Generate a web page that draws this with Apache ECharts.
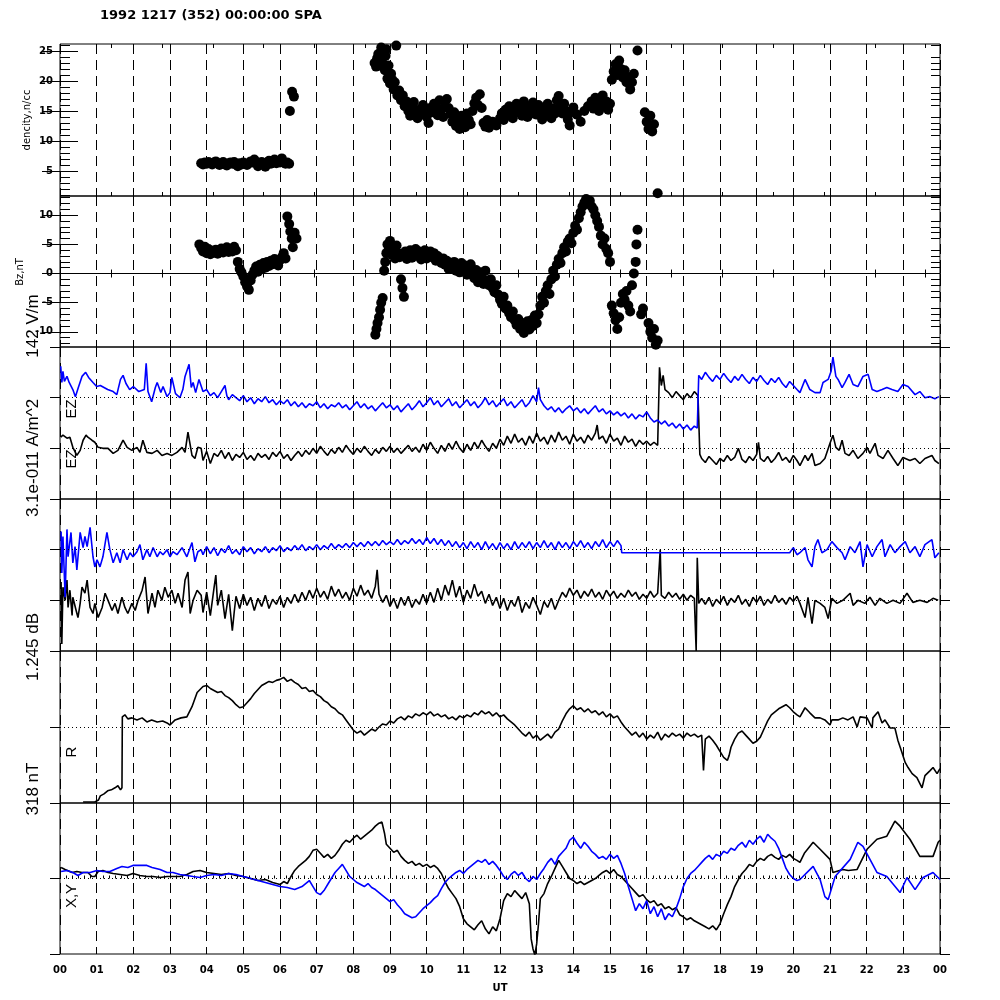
<!DOCTYPE html>
<html><head><meta charset="utf-8">
<script src="https://cdn.jsdelivr.net/npm/echarts@6/dist/echarts.min.js"></script>
<style>html,body{margin:0;padding:0;background:#fff}#c{width:1000px;height:1000px}</style>
</head><body><div id="c"></div>
<script>
const hourLabels = ['00','01','02','03','04','05','06','07','08','09','10','11','12','13','14','15','16','17','18','19','20','21','22','23','00'];
const densityTicks = [5,10,15,20,25];
const densityMinor = [1,2,3,4,6,7,8,9,11,12,13,14,16,17,18,19,21,22,23,24,26];
const bzTicks = [-10,-5,0,5,10];
const bzMinor = [-12,-11,-9,-8,-7,-6,-4,-3,-2,-1,1,2,3,4,6,7,8,9,11,12,13];
const densityRange = [0.83, 26.17];
const bzRange = [-12.6, 13.3];

// density, n/cc  [UT hour, value]
const densityPts = [[3.85,6.3],[3.9,6.1],[3.95,6.4],[4.0,6.2],[4.05,6.5],[4.1,6.3],[4.15,6.1],[4.2,6.4],[4.25,6.6],[4.3,6.3],[4.35,6.0],[4.4,6.2],[4.45,6.5],[4.5,6.1],[4.55,5.9],[4.6,6.3],[4.65,6.4],[4.7,6.2],[4.75,6.5],[4.8,6.1],[4.85,5.8],[4.9,6.3],[4.95,6.1],[5.0,6.4],[5.05,6.2],[5.1,6.0],[5.15,6.3],[5.2,6.6],[5.25,6.4],[5.3,6.9],[5.35,6.3],[5.4,5.8],[5.45,6.2],[5.5,6.5],[5.55,6.3],[5.6,5.7],[5.65,6.4],[5.7,6.7],[5.75,6.2],[5.8,6.5],[5.85,6.9],[5.9,6.3],[5.95,6.6],[6.0,6.4],[6.05,7.1],[6.1,6.5],[6.15,6.2],[6.2,6.4],[6.25,6.2],[6.27,15.0],[6.33,18.2],[6.38,17.4],
[8.58,23.0],[8.62,22.4],[8.65,23.8],[8.68,24.5],[8.7,22.6],[8.73,23.4],[8.76,25.6],[8.8,24.6],[8.83,22.8],[8.86,21.8],[8.88,24.2],[8.9,25.3],[8.93,20.4],[8.96,22.6],[9.0,19.6],[9.03,21.2],[9.06,20.2],[9.1,18.6],[9.13,19.8],[9.17,25.9],[9.2,17.6],[9.25,18.4],[9.3,16.8],[9.35,17.6],[9.4,15.8],[9.45,16.6],[9.5,15.0],[9.55,14.2],[9.6,15.8],[9.65,16.5],[9.7,14.8],[9.75,13.8],[9.8,15.2],[9.85,14.6],[9.9,16.0],[9.95,15.3],[10.0,14.0],[10.05,13.0],[10.1,15.5],[10.15,14.8],[10.2,16.2],[10.25,15.6],[10.3,14.3],[10.35,16.8],[10.4,15.2],[10.45,14.0],[10.5,15.8],[10.55,17.0],[10.6,15.5],[10.65,14.5],[10.7,13.2],[10.75,14.8],[10.8,12.5],[10.85,13.8],[10.9,12.0],[10.95,14.2],[11.0,13.0],[11.05,12.3],[11.1,14.6],[11.15,13.5],[11.2,12.8],[11.25,15.0],[11.3,16.3],[11.35,17.2],[11.4,16.0],[11.45,17.8],[11.5,15.5],[11.55,13.0],[11.6,12.4],[11.65,13.5],[11.7,12.2],[11.8,13.2],[11.9,12.6],[12.0,13.8],[12.05,14.6],[12.1,13.5],[12.15,15.2],[12.2,14.2],[12.25,15.8],[12.3,14.6],[12.35,13.8],[12.4,15.4],[12.45,16.2],[12.5,14.8],[12.55,15.6],[12.6,14.2],[12.65,16.6],[12.7,15.0],[12.75,14.0],[12.8,15.8],[12.85,14.6],[12.9,16.4],[12.95,15.2],[13.0,14.4],[13.05,16.0],[13.1,15.0],[13.15,13.6],[13.2,15.6],[13.25,14.4],[13.3,16.2],[13.35,15.0],[13.4,13.8],[13.45,15.4],[13.5,14.6],[13.55,16.8],[13.6,17.5],[13.65,15.8],[13.7,14.6],[13.75,16.2],[13.8,15.0],[13.85,13.6],[13.9,12.6],[13.95,14.8],[14.0,15.6],[14.1,14.4],[14.2,13.2],[14.3,15.0],[14.4,15.8],[14.5,16.6],[14.55,15.4],[14.6,17.2],[14.65,16.0],[14.7,15.0],[14.75,16.4],[14.8,17.6],[14.85,15.8],[14.9,16.6],[14.95,15.2],[15.0,16.2],[15.05,20.2],[15.1,21.6],[15.15,22.8],[15.2,21.0],[15.25,23.4],[15.3,22.0],[15.35,20.6],[15.4,21.8],[15.45,19.8],[15.5,20.6],[15.55,18.6],[15.6,19.8],[15.65,21.2],[15.75,25.1],[15.95,14.8],[16.0,13.2],[16.05,12.0],[16.1,14.2],[16.15,11.6],[16.2,12.8],[16.3,1.3]];

// Bz, nT  [UT hour, value]
const bzPts = [[3.8,5.0],[3.85,4.4],[3.9,3.8],[3.95,4.6],[4.0,3.5],[4.05,4.2],[4.1,3.3],[4.15,3.9],[4.2,3.6],[4.25,4.1],[4.3,3.4],[4.35,3.8],[4.4,4.3],[4.45,3.6],[4.5,3.9],[4.55,4.5],[4.6,3.7],[4.65,4.2],[4.7,3.8],[4.75,4.6],[4.8,4.0],[4.85,2.0],[4.9,0.8],[4.95,0.2],[5.0,-0.5],[5.05,-1.5],[5.1,-2.2],[5.15,-2.8],[5.2,-1.2],[5.25,-0.2],[5.3,0.5],[5.35,1.2],[5.4,0.3],[5.45,1.5],[5.5,0.8],[5.55,1.8],[5.6,1.0],[5.65,2.0],[5.7,1.3],[5.75,2.2],[5.8,1.6],[5.85,2.5],[5.9,2.0],[5.95,1.4],[6.0,2.3],[6.05,2.8],[6.1,3.5],[6.15,2.6],[6.2,9.8],[6.25,8.5],[6.28,7.2],[6.32,6.0],[6.35,4.5],[6.4,7.0],[6.45,6.0],
[8.6,-10.5],[8.63,-9.5],[8.66,-8.5],[8.7,-7.5],[8.73,-6.2],[8.76,-5.0],[8.8,-4.2],[8.84,0.5],[8.87,2.0],[8.9,3.5],[8.93,5.0],[8.96,4.0],[9.0,5.6],[9.03,4.5],[9.06,3.2],[9.1,4.0],[9.14,2.6],[9.18,4.8],[9.22,3.5],[9.26,2.8],[9.3,-1.0],[9.34,-2.5],[9.38,-4.0],[9.42,3.8],[9.46,2.5],[9.5,3.2],[9.55,4.0],[9.6,2.7],[9.65,3.5],[9.7,4.2],[9.75,3.0],[9.8,3.8],[9.85,2.4],[9.9,3.4],[9.95,4.0],[10.0,2.6],[10.05,3.2],[10.1,3.8],[10.15,2.8],[10.2,3.5],[10.25,2.2],[10.3,3.0],[10.35,2.5],[10.4,1.8],[10.45,2.6],[10.5,1.5],[10.55,2.2],[10.6,0.8],[10.65,1.6],[10.7,1.0],[10.75,2.0],[10.8,0.5],[10.85,1.3],[10.9,0.2],[10.95,1.8],[11.0,0.6],[11.05,1.4],[11.1,-0.2],[11.15,0.9],[11.2,1.6],[11.25,0.3],[11.3,-0.8],[11.35,0.6],[11.4,-1.5],[11.45,0.2],[11.5,-0.6],[11.55,-1.8],[11.6,0.5],[11.65,-1.2],[11.7,-2.0],[11.75,-1.0],[11.8,-2.5],[11.85,-3.2],[11.9,-2.0],[11.95,-3.6],[12.0,-4.5],[12.05,-5.2],[12.1,-4.0],[12.15,-6.0],[12.2,-5.5],[12.25,-6.8],[12.3,-7.5],[12.35,-6.5],[12.4,-8.0],[12.45,-8.8],[12.5,-7.8],[12.55,-9.5],[12.6,-8.5],[12.65,-10.2],[12.7,-9.0],[12.75,-8.2],[12.8,-9.6],[12.85,-8.0],[12.9,-9.0],[12.95,-7.2],[13.0,-8.5],[13.05,-7.0],[13.1,-5.5],[13.15,-4.0],[13.2,-5.0],[13.25,-3.0],[13.3,-2.0],[13.35,-3.5],[13.4,-1.0],[13.45,0.5],[13.5,-0.5],[13.55,1.5],[13.6,2.5],[13.65,1.8],[13.7,3.5],[13.75,4.5],[13.8,3.8],[13.85,5.5],[13.9,6.0],[13.95,5.2],[14.0,7.0],[14.05,8.2],[14.1,7.5],[14.15,9.5],[14.2,10.5],[14.25,11.5],[14.3,12.2],[14.35,12.8],[14.4,12.0],[14.45,12.5],[14.5,11.5],[14.55,11.0],[14.6,10.0],[14.65,9.0],[14.7,8.0],[14.75,6.5],[14.8,5.0],[14.85,6.0],[14.9,4.2],[14.95,3.5],[15.0,2.0],[15.05,-5.5],[15.1,-6.8],[15.15,-8.0],[15.2,-9.5],[15.25,-7.5],[15.3,-5.0],[15.35,-3.5],[15.4,-4.5],[15.45,-3.0],[15.5,-5.5],[15.55,-6.5],[15.6,-2.0],[15.65,0.0],[15.7,2.0],[15.72,5.0],[15.75,7.5],[15.85,-7.0],[15.9,-6.0],[16.05,-8.5],[16.1,-10.0],[16.15,-11.0],[16.2,-9.5],[16.25,-12.2],[16.3,-11.5]];

// panel 3: EZ traces (relative units, black baseline 0, blue baseline 50)
const ezBlue = [[0.02,81],[0.05,65],[0.08,76],[0.12,66],[0.19,71],[0.25,65],[0.35,58],[0.42,51],[0.5,60],[0.6,71],[0.7,75],[0.78,70],[0.9,65],[1.0,61],[1.1,62],[1.2,60],[1.3,58],[1.45,56],[1.55,53],[1.65,68],[1.72,72],[1.8,64],[1.9,58],[2.0,61],[2.15,56],[2.3,58],[2.35,84],[2.4,56],[2.5,46],[2.6,60],[2.65,65],[2.75,55],[2.81,61],[2.92,51],[3.0,55],[3.05,70],[3.15,54],[3.27,50],[3.35,58],[3.41,71],[3.52,83],[3.58,60],[3.63,65],[3.7,55],[3.79,68],
[3.9,56],[4.0,58],[4.1,52],[4.2,55],[4.3,50],[4.4,56],[4.5,62],[4.55,52],[4.6,48],[4.7,53],[4.8,50],[4.9,47],[5.0,52],[5.1,46],[5.2,50],[5.3,44],[5.4,49],[5.5,46],[5.6,51],[5.7,45],[5.8,48],[5.9,43],[6.0,47],[6.1,44],[6.2,48],[6.3,42],[6.4,46],[6.5,41],[6.6,45],[6.7,40],[6.8,44],[6.9,42],[7.0,46],[7.1,40],[7.2,44],[7.3,39],[7.4,43],[7.5,41],[7.6,45],[7.7,40],[7.8,43],[7.9,38],[8.0,42],[8.1,46],[8.2,40],[8.3,44],[8.4,39],[8.5,42],[8.6,37],[8.7,41],[8.8,45],[8.9,40],[9.0,43],[9.1,38],[9.2,42],[9.3,36],[9.4,40],[9.5,44],[9.6,38],[9.7,42],[9.8,47],[9.9,41],[10.0,45],[10.1,50],[10.2,43],[10.3,47],[10.4,41],[10.5,45],[10.6,49],[10.7,42],[10.8,46],[10.9,40],[11.0,44],[11.1,48],[11.2,42],[11.3,46],[11.4,40],[11.5,44],[11.6,50],[11.7,43],[11.8,47],[11.9,41],[12.0,45],[12.1,49],[12.2,42],[12.3,46],[12.4,40],[12.5,44],[12.6,48],[12.7,41],[12.8,45],[12.9,52],[13.0,46],[13.05,60],[13.1,48],[13.2,42],[13.3,38],[13.4,41],[13.5,36],[13.6,40],[13.7,35],[13.8,39],[13.9,42],[14.0,37],[14.1,40],[14.2,35],[14.3,39],[14.4,34],[14.5,38],[14.6,42],[14.7,36],[14.8,39],[14.9,34],[15.0,37],[15.1,33],[15.2,36],[15.3,32],[15.4,35],[15.5,30],[15.6,34],[15.7,29],[15.8,33],[15.9,31],[16.0,36],[16.1,30],[16.2,26],[16.3,28],[16.4,24],[16.5,27],[16.6,22],[16.7,25],[16.8,20],[16.9,24],[17.0,19],[17.1,23],[17.2,18],[17.3,22],[17.38,20],[17.42,72],[17.5,68],[17.6,75],[17.7,70],[17.8,66],[17.9,72],[18.0,68],[18.1,74],[18.2,69],[18.3,65],[18.4,71],[18.5,67],[18.6,73],[18.7,68],[18.8,64],[18.9,70],[19.0,66],[19.1,72],[19.2,67],[19.3,63],[19.4,69],[19.5,65],[19.6,70],[19.7,64],[19.8,60],[19.9,66],[20.0,62],[20.1,58],
[20.18,55],[20.32,68],[20.45,58],[20.59,55],[20.73,55],[20.81,65],[20.95,68],[21.03,76],[21.08,90],[21.16,71],[21.22,68],[21.33,60],[21.41,65],[21.52,73],[21.63,63],[21.76,61],[21.9,71],[22.04,73],[22.15,58],[22.28,56],[22.42,58],[22.55,60],[22.69,58],[22.85,56],[22.99,63],[23.13,61],[23.32,53],[23.45,56],[23.59,50],[23.73,51],[23.86,49],[23.97,51]];
const ezBlack = [[0.02,11],[0.08,13],[0.19,10],[0.27,11],[0.35,1],[0.46,-7],[0.55,-2],[0.63,8],[0.71,13],[0.76,11],[0.87,8],[0.95,6],[1.04,1],[1.17,0],[1.31,0],[1.45,-5],[1.58,-2],[1.72,8],[1.83,1],[1.96,-2],[2.1,1],[2.18,-4],[2.26,8],[2.37,-4],[2.51,-5],[2.65,-2],[2.78,-7],[2.92,-5],[3.05,-7],[3.19,-4],[3.33,1],[3.41,-4],[3.49,16],[3.6,-7],[3.68,-10],[3.76,1],
[3.85,0],[3.9,-12],[4.0,-3],[4.1,-15],[4.2,-5],[4.3,-8],[4.4,-2],[4.5,-10],[4.6,-4],[4.7,-12],[4.8,-6],[4.9,-9],[5.0,-4],[5.1,-11],[5.2,-7],[5.3,-12],[5.4,-5],[5.5,-9],[5.6,-6],[5.7,-11],[5.8,-4],[5.9,-8],[6.0,-3],[6.1,-10],[6.2,-6],[6.3,-12],[6.4,-7],[6.5,-3],[6.6,-8],[6.7,-2],[6.8,-6],[6.9,0],[7.0,-5],[7.1,2],[7.2,-3],[7.3,-7],[7.4,-1],[7.5,-5],[7.6,1],[7.7,-4],[7.8,3],[7.9,-2],[8.0,-6],[8.1,0],[8.2,-4],[8.3,2],[8.4,-3],[8.5,-7],[8.6,-1],[8.7,-5],[8.8,1],[8.9,-3],[9.0,2],[9.1,-4],[9.2,0],[9.3,-5],[9.4,-1],[9.5,3],[9.6,-3],[9.7,1],[9.8,-4],[9.9,4],[10.0,-2],[10.1,6],[10.2,0],[10.3,-5],[10.4,3],[10.5,-3],[10.6,5],[10.7,-1],[10.8,7],[10.9,0],[11.0,-4],[11.1,4],[11.2,-2],[11.3,6],[11.4,0],[11.5,8],[11.6,2],[11.7,-3],[11.8,5],[11.9,0],[12.0,9],[12.1,3],[12.2,12],[12.3,5],[12.4,14],[12.5,6],[12.6,10],[12.7,3],[12.8,12],[12.9,5],[13.0,15],[13.1,7],[13.2,11],[13.3,4],[13.4,13],[13.5,6],[13.6,16],[13.7,8],[13.8,12],[13.9,4],[14.0,14],[14.1,7],[14.2,11],[14.3,5],[14.4,13],[14.5,8],[14.6,15],[14.65,23],[14.7,9],[14.8,12],[14.9,5],[15.0,14],[15.1,7],[15.2,10],[15.3,3],[15.4,12],[15.5,6],[15.6,9],[15.7,2],[15.8,8],[15.9,4],[16.0,7],[16.1,3],[16.2,6],[16.3,3],[16.35,80],[16.4,62],[16.45,72],[16.5,58],[16.6,55],[16.7,50],[16.8,56],[16.9,52],[17.0,48],[17.1,54],[17.2,50],[17.3,56],[17.4,52],[17.45,-6],[17.5,-10],[17.6,-14],[17.7,-8],[17.8,-12],[17.9,-16],[18.0,-10],[18.1,-13],[18.2,-7],[18.3,-12],[18.4,-9],[18.5,0],[18.6,-11],[18.7,-14],[18.8,-8],[18.9,-12],[19.0,-6],[19.05,6],[19.1,-10],[19.2,-13],[19.3,-8],[19.4,-14],[19.5,-10],[19.6,-4],[19.7,-12],[19.8,-9],[19.9,-14],[20.0,-7],[20.1,-12],
[20.18,-17],[20.32,-7],[20.4,-12],[20.51,-5],[20.59,-17],[20.73,-15],[20.86,-10],[21.0,5],[21.08,13],[21.16,1],[21.25,-2],[21.33,8],[21.41,-5],[21.52,-7],[21.63,-2],[21.76,-10],[21.9,-5],[22.01,1],[22.09,-5],[22.23,5],[22.31,-7],[22.45,-10],[22.58,-2],[22.72,-10],[22.85,-17],[22.99,-9],[23.18,-12],[23.32,-10],[23.45,-15],[23.59,-10],[23.78,-7],[23.86,-12],[23.97,-15]];

// panel 4 traces (relative units, black baseline 0, blue baseline 50)
const p4Blue = [[0.03,68],[0.05,27],[0.08,63],[0.14,3],[0.19,70],[0.22,43],[0.3,67],[0.35,37],[0.41,53],[0.46,30],[0.55,67],[0.63,52],[0.68,63],[0.74,53],[0.82,72],[0.9,43],[0.95,33],[1.01,40],[1.09,33],[1.17,43],[1.28,67],[1.36,50],[1.45,37],[1.55,47],[1.64,37],[1.72,50],[1.83,40],[1.91,47],[1.99,43],[2.1,48],[2.18,55],[2.26,40],[2.37,50],[2.45,43],[2.54,52],[2.65,43],[2.73,48],[2.81,45],[2.92,50],[3.0,43],[3.08,48],[3.19,45],[3.33,52],[3.46,43],[3.6,57],[3.68,38],[3.76,48],
[3.85,50],[3.9,45],[4.0,53],[4.1,46],[4.2,52],[4.3,44],[4.4,51],[4.5,47],[4.6,54],[4.7,46],[4.8,50],[4.9,45],[5.0,53],[5.1,48],[5.2,52],[5.3,46],[5.4,51],[5.5,48],[5.6,53],[5.7,47],[5.8,52],[5.9,49],[6.0,54],[6.1,48],[6.2,52],[6.3,49],[6.4,54],[6.5,50],[6.6,55],[6.7,49],[6.8,53],[6.9,50],[7.0,55],[7.1,50],[7.2,54],[7.3,51],[7.4,56],[7.5,51],[7.6,55],[7.7,52],[7.8,56],[7.9,52],[8.0,57],[8.1,53],[8.2,57],[8.3,53],[8.4,58],[8.5,54],[8.6,58],[8.7,54],[8.8,59],[8.9,55],[9.0,58],[9.1,55],[9.2,60],[9.3,55],[9.4,59],[9.5,56],[9.6,61],[9.7,56],[9.8,60],[9.9,55],[10.0,62],[10.1,56],[10.2,61],[10.3,55],[10.4,60],[10.5,54],[10.6,59],[10.7,53],[10.8,58],[10.9,52],[11.0,57],[11.1,51],[11.2,58],[11.3,52],[11.4,57],[11.5,50],[11.6,58],[11.7,51],[11.8,56],[11.9,50],[12.0,57],[12.1,51],[12.2,56],[12.3,50],[12.4,58],[12.5,51],[12.6,57],[12.7,52],[12.8,58],[12.9,51],[13.0,57],[13.1,52],[13.2,59],[13.3,52],[13.4,57],[13.5,50],[13.6,58],[13.7,52],[13.8,57],[13.9,51],[14.0,58],[14.1,53],[14.2,59],[14.3,52],[14.4,57],[14.5,51],[14.6,58],[14.7,53],[14.8,60],[14.9,52],[15.0,58],[15.1,53],[15.2,59],[15.3,54],[15.32,47],[19.9,47],[20.0,52],[20.1,45],
[20.18,47],[20.32,52],[20.4,40],[20.51,33],[20.59,53],[20.67,60],[20.78,47],[20.92,50],[21.05,58],[21.19,52],[21.33,47],[21.41,40],[21.55,53],[21.68,47],[21.82,58],[21.9,33],[22.01,55],[22.15,43],[22.28,53],[22.42,60],[22.5,43],[22.64,55],[22.77,47],[22.91,53],[23.05,58],[23.18,47],[23.32,53],[23.45,43],[23.59,55],[23.78,60],[23.86,42],[23.97,47]];
const p4Black = [[0.03,18],[0.05,-43],[0.08,13],[0.14,0],[0.19,20],[0.22,-7],[0.27,10],[0.33,-15],[0.35,3],[0.44,-10],[0.49,-17],[0.55,-3],[0.6,13],[0.68,7],[0.74,20],[0.82,-7],[0.9,-13],[0.95,-3],[1.04,-17],[1.15,-7],[1.23,7],[1.31,0],[1.42,-10],[1.5,-3],[1.58,-13],[1.69,3],[1.77,-7],[1.85,-13],[1.96,-3],[2.05,-10],[2.13,0],[2.24,10],[2.32,23],[2.4,-13],[2.51,7],[2.59,-7],[2.67,10],[2.78,0],[2.86,13],[2.95,3],[3.05,10],[3.14,-3],[3.22,7],[3.33,-7],[3.41,20],[3.49,28],[3.55,-13],[3.63,0],[3.74,10],
[3.85,5],[3.9,-12],[4.0,8],[4.1,-15],[4.2,12],[4.25,25],[4.3,-5],[4.4,10],[4.5,-18],[4.6,6],[4.7,-30],[4.75,-12],[4.8,4],[4.9,-8],[5.0,6],[5.1,-5],[5.2,3],[5.3,-10],[5.4,2],[5.5,-6],[5.6,5],[5.7,-8],[5.8,1],[5.9,-4],[6.0,4],[6.1,-7],[6.2,3],[6.3,-3],[6.4,6],[6.5,-2],[6.6,8],[6.7,0],[6.8,10],[6.9,2],[7.0,12],[7.1,3],[7.2,9],[7.3,1],[7.4,14],[7.5,4],[7.6,11],[7.7,2],[7.8,8],[7.9,0],[8.0,12],[8.1,4],[8.2,15],[8.3,5],[8.4,10],[8.5,2],[8.6,14],[8.65,30],[8.7,6],[8.8,-2],[8.9,5],[9.0,-6],[9.1,2],[9.2,-8],[9.3,3],[9.4,-5],[9.5,4],[9.6,-7],[9.7,1],[9.8,-4],[9.9,6],[10.0,-3],[10.1,8],[10.2,-2],[10.3,12],[10.4,0],[10.5,15],[10.6,5],[10.7,20],[10.8,3],[10.9,14],[11.0,-2],[11.1,10],[11.2,2],[11.3,16],[11.4,4],[11.5,9],[11.6,-3],[11.7,6],[11.8,-5],[11.9,3],[12.0,-8],[12.1,2],[12.2,-10],[12.3,0],[12.4,-6],[12.5,4],[12.6,-12],[12.7,-2],[12.8,-8],[12.9,3],[13.0,-5],[13.1,-14],[13.2,-1],[13.3,-7],[13.4,2],[13.5,-9],[13.6,0],[13.7,8],[13.8,3],[13.9,12],[14.0,5],[14.1,10],[14.2,2],[14.3,9],[14.4,4],[14.5,11],[14.6,3],[14.7,8],[14.8,1],[14.9,10],[15.0,4],[15.1,9],[15.2,2],[15.3,7],[15.4,3],[15.5,10],[15.6,4],[15.7,8],[15.8,1],[15.9,6],[16.0,2],[16.1,9],[16.2,3],[16.3,7],[16.37,50],[16.4,5],[16.5,2],[16.6,8],[16.7,3],[16.8,7],[16.9,1],[17.0,6],[17.1,0],[17.2,5],[17.3,2],[17.35,-50],[17.38,42],[17.42,-3],[17.5,2],[17.6,-4],[17.7,3],[17.8,-6],[17.9,1],[18.0,-3],[18.1,4],[18.2,-5],[18.3,2],[18.4,-2],[18.5,5],[18.6,-4],[18.7,1],[18.8,-6],[18.9,3],[19.0,-2],[19.1,4],[19.2,-5],[19.3,1],[19.4,-3],[19.5,5],[19.6,-2],[19.7,2],[19.8,-4],[19.9,3],[20.0,-1],[20.1,4],
[20.18,-3],[20.32,-17],[20.4,3],[20.51,-23],[20.59,0],[20.73,-3],[20.86,-7],[20.95,-18],[21.05,2],[21.19,-3],[21.35,0],[21.55,7],[21.63,-5],[21.76,0],[21.95,-3],[22.09,3],[22.23,-5],[22.36,2],[22.55,-3],[22.72,0],[22.91,-3],[23.1,7],[23.26,-2],[23.45,0],[23.65,-2],[23.81,2],[23.95,0]];

// panel 5: R (relative units, baseline 0)
const rTrace = [[0.63,-74],[0.95,-74],[1.05,-72],[1.1,-68],[1.2,-66],[1.3,-63],[1.4,-62],[1.5,-60],[1.58,-58],[1.65,-62],[1.69,-60],[1.7,10],[1.77,12],[1.85,8],[1.96,9],[2.1,7],[2.24,9],[2.37,5],[2.5,7],[2.65,5],[2.8,6],[2.92,4],[3.0,2],[3.14,7],[3.3,9],[3.46,10],[3.6,20],[3.74,34],[3.82,37],[3.9,40],[4.0,41],[4.1,38],[4.2,36],[4.3,34],[4.4,35],[4.5,31],[4.6,29],[4.7,26],[4.8,22],[4.9,19],[5.0,20],[5.1,24],[5.2,28],[5.3,33],[5.4,37],[5.5,41],[5.6,43],[5.7,45],[5.8,44],[5.9,46],[6.0,47],[6.1,49],[6.2,45],[6.3,47],[6.4,44],[6.5,42],[6.6,38],[6.7,39],[6.8,35],[6.9,36],[7.0,32],[7.1,30],[7.2,26],[7.3,24],[7.4,20],[7.5,18],[7.6,14],[7.7,12],[7.8,7],[7.9,2],[8.0,-3],[8.1,-6],[8.2,-4],[8.3,-8],[8.4,-5],[8.5,-2],[8.6,-4],[8.7,0],[8.8,3],[8.9,2],[9.0,6],[9.1,4],[9.2,8],[9.3,10],[9.4,7],[9.5,11],[9.6,9],[9.7,13],[9.8,11],[9.9,14],[10.0,12],[10.1,15],[10.2,11],[10.3,13],[10.4,10],[10.5,12],[10.6,8],[10.7,10],[10.8,7],[10.9,11],[11.0,9],[11.1,12],[11.2,10],[11.3,14],[11.4,12],[11.5,16],[11.6,13],[11.7,15],[11.8,11],[11.9,14],[12.0,10],[12.1,12],[12.2,8],[12.3,5],[12.4,2],[12.5,-2],[12.6,-6],[12.7,-9],[12.8,-5],[12.9,-11],[13.0,-8],[13.1,-13],[13.2,-10],[13.3,-7],[13.4,-11],[13.5,-5],[13.6,-2],[13.7,6],[13.8,13],[13.9,18],[14.0,21],[14.1,17],[14.2,19],[14.3,15],[14.4,18],[14.5,14],[14.6,16],[14.7,12],[14.8,15],[14.9,10],[15.0,13],[15.1,9],[15.2,11],[15.3,5],[15.4,0],[15.5,-4],[15.6,-8],[15.7,-5],[15.8,-10],[15.9,-6],[16.0,-12],[16.1,-8],[16.2,-11],[16.3,-5],[16.4,-13],[16.5,-7],[16.6,-10],[16.7,-6],[16.8,-9],[16.9,-7],[17.0,-11],[17.1,-6],[17.2,-9],[17.3,-7],[17.4,-10],[17.5,-8],[17.55,-43],[17.6,-12],[17.7,-9],[17.8,-13],[17.9,-18],[18.0,-24],[18.1,-30],[18.2,-33],[18.25,-28],[18.3,-20],[18.4,-12],[18.5,-6],[18.6,-4],[18.7,-8],[18.8,-12],[18.9,-16],[19.0,-14],[19.1,-10],[19.2,-2],[19.3,6],[19.4,12],[19.5,15],[19.6,18],[19.7,20],[19.8,22],[19.9,19],[20.0,15],[20.1,12],
[20.18,10],[20.32,19],[20.45,14],[20.59,9],[20.73,9],[20.86,7],[21.0,2],[21.05,7],[21.22,7],[21.35,9],[21.49,7],[21.63,10],[21.74,0],[21.82,10],[22.01,9],[22.15,-1],[22.17,9],[22.31,15],[22.42,4],[22.5,7],[22.64,-1],[22.77,-1],[22.85,-13],[22.96,-25],[23.05,-35],[23.13,-40],[23.24,-46],[23.37,-50],[23.51,-60],[23.59,-48],[23.73,-43],[23.81,-40],[23.92,-46],[24.0,-41]];

// panel 6: X (black) and Y (blue), relative units, baseline 0
const xTrace = [[0.03,11],[0.14,9],[0.33,6],[0.46,7],[0.6,6],[0.76,6],[0.87,2],[0.95,2],[1.04,7],[1.17,8],[1.31,6],[1.45,5],[1.64,4],[1.83,3],[1.99,5],[2.18,3],[2.37,2],[2.54,2],[2.73,1],[2.92,2],[3.08,2],[3.27,2],[3.46,4],[3.63,7],[3.82,8],[4.0,6],[4.2,5],[4.4,4],[4.6,5],[4.8,3],[5.0,2],[5.2,0],[5.4,-2],[5.6,-1],[5.8,-4],[6.0,-6],[6.1,-3],[6.2,-5],[6.3,2],[6.4,8],[6.5,12],[6.6,15],[6.7,18],[6.8,22],[6.9,28],[7.0,29],[7.1,25],[7.2,21],[7.3,24],[7.4,20],[7.5,23],[7.6,28],[7.7,34],[7.8,38],[7.9,36],[8.0,40],[8.1,43],[8.2,39],[8.3,42],[8.4,45],[8.5,48],[8.6,52],[8.7,55],[8.78,56],[8.85,45],[8.9,34],[9.0,30],[9.1,26],[9.2,28],[9.3,22],[9.4,18],[9.5,15],[9.6,17],[9.7,13],[9.8,15],[9.9,12],[10.0,14],[10.1,11],[10.2,13],[10.3,10],[10.4,5],[10.5,-3],[10.6,-10],[10.7,-15],[10.8,-20],[10.9,-28],[11.0,-40],[11.1,-45],[11.2,-48],[11.3,-51],[11.4,-46],[11.5,-42],[11.6,-50],[11.7,-55],[11.8,-48],[11.9,-52],[12.0,-40],[12.1,-22],[12.2,-15],[12.3,-18],[12.4,-12],[12.5,-16],[12.6,-20],[12.7,-14],[12.8,-25],[12.85,-60],[12.9,-70],[12.95,-76],[13.0,-65],[13.05,-45],[13.1,-20],[13.2,-15],[13.3,-5],[13.4,2],[13.5,10],[13.6,18],[13.7,12],[13.8,6],[13.9,0],[14.0,-2],[14.1,-5],[14.2,-3],[14.3,-6],[14.4,-4],[14.5,-2],[14.6,0],[14.7,3],[14.8,6],[14.9,8],[15.0,5],[15.1,9],[15.2,4],[15.3,2],[15.4,-2],[15.5,-6],[15.6,-10],[15.7,-14],[15.8,-18],[15.9,-16],[16.0,-21],[16.1,-24],[16.2,-22],[16.3,-27],[16.4,-25],[16.5,-30],[16.6,-28],[16.7,-31],[16.8,-29],[16.9,-36],[17.0,-38],[17.1,-41],[17.2,-39],[17.3,-42],[17.4,-44],[17.5,-46],[17.6,-48],[17.7,-50],[17.8,-47],[17.9,-51],[18.0,-45],[18.1,-35],[18.2,-26],[18.3,-18],[18.4,-8],[18.5,-1],[18.6,5],[18.7,9],[18.8,14],[18.9,12],[19.0,17],[19.1,20],[19.2,18],[19.3,22],[19.4,24],[19.5,21],[19.6,19],[19.7,23],[19.8,21],[19.9,24],[20.0,20],[20.1,18],[20.18,16],[20.3,25],[20.54,36],[20.73,29],[21.0,19],[21.08,6],[21.35,9],[21.5,8],[21.74,9],[22.01,29],[22.28,39],[22.55,42],[22.77,57],[22.91,52],[23.18,39],[23.45,22],[23.81,22],[23.95,36],[24.0,38]];
const yTrace = [[0.03,7],[0.19,8],[0.35,6],[0.49,3],[0.63,6],[0.82,6],[1.01,8],[1.17,7],[1.36,7],[1.55,10],[1.69,12],[1.85,11],[1.99,13],[2.18,13],[2.37,13],[2.51,11],[2.73,9],[2.92,6],[3.08,6],[3.27,4],[3.46,3],[3.63,2],[3.82,1],[4.0,3],[4.2,4],[4.4,3],[4.6,5],[4.8,4],[5.0,2],[5.2,0],[5.4,-2],[5.6,-4],[5.8,-6],[6.0,-8],[6.2,-9],[6.4,-11],[6.6,-8],[6.7,-5],[6.8,-2],[6.9,-8],[7.0,-14],[7.1,-16],[7.2,-12],[7.3,-6],[7.4,0],[7.5,6],[7.6,10],[7.7,14],[7.8,8],[7.9,2],[8.0,-1],[8.1,-4],[8.2,-6],[8.3,-8],[8.4,-5],[8.5,-9],[8.6,-11],[8.7,-14],[8.8,-17],[8.9,-20],[9.0,-23],[9.1,-21],[9.2,-26],[9.3,-30],[9.4,-35],[9.5,-37],[9.6,-39],[9.7,-38],[9.8,-34],[9.9,-30],[10.0,-27],[10.1,-24],[10.2,-20],[10.3,-17],[10.4,-10],[10.5,-4],[10.6,0],[10.7,3],[10.8,6],[10.9,8],[11.0,5],[11.1,9],[11.2,12],[11.3,15],[11.4,18],[11.5,16],[11.6,19],[11.7,14],[11.8,17],[11.9,13],[12.0,8],[12.1,2],[12.2,-1],[12.3,4],[12.4,7],[12.5,3],[12.6,6],[12.7,0],[12.8,-3],[12.9,2],[13.0,-1],[13.1,5],[13.2,10],[13.3,16],[13.4,20],[13.5,14],[13.6,22],[13.7,26],[13.8,30],[13.9,38],[14.0,41],[14.1,35],[14.2,30],[14.3,36],[14.4,32],[14.5,27],[14.6,24],[14.7,20],[14.8,22],[14.9,19],[15.0,24],[15.1,20],[15.2,23],[15.3,15],[15.4,5],[15.5,-8],[15.6,-20],[15.7,-32],[15.8,-25],[15.9,-30],[16.0,-22],[16.1,-35],[16.2,-28],[16.3,-38],[16.4,-30],[16.5,-41],[16.6,-35],[16.7,-38],[16.8,-30],[16.9,-20],[17.0,-8],[17.1,0],[17.2,5],[17.3,8],[17.4,12],[17.5,16],[17.6,20],[17.7,23],[17.8,19],[17.9,24],[18.0,22],[18.1,27],[18.2,25],[18.3,30],[18.4,28],[18.5,33],[18.6,36],[18.7,31],[18.8,38],[18.9,34],[19.0,39],[19.1,42],[19.2,36],[19.3,44],[19.4,40],[19.5,37],[19.6,30],[19.7,20],[19.8,10],[19.9,4],[20.0,0],[20.1,-2],[20.18,-1],[20.54,12],[20.73,-1],[20.86,-18],[20.95,-21],[21.14,2],[21.55,19],[21.76,36],[21.9,32],[22.09,19],[22.28,6],[22.55,2],[22.91,-14],[23.1,1],[23.32,-11],[23.54,1],[23.81,6],[24.0,-1]];

const BLUE = '#0000ff';
const gridTops = [44,196,347,499,651,803];
const gridHeights = [152,151,152,152,152,151];
const smallFont = {color:'#000', fontFamily:'DejaVu Sans', fontWeight:'bold', fontSize:10};

const grid = gridTops.map((t,i)=>({left:60, width:880, top:t, height:gridHeights[i], show:true, borderColor:'#000', borderWidth:1, backgroundColor:'rgba(0,0,0,0)'}));

const xAxis = [];
for (let i=0;i<6;i++){
  const last = i===5;
  xAxis.push({gridIndex:i, type:'value', min:0, max:24, interval:1, position:'bottom',
    axisLine:{show:false},
    axisTick:{show:last, inside:true, length:7, lineStyle:{color:'#000'}},
    minorTick:{show:last, splitNumber:6, length:3, lineStyle:{color:'#000'}},
    axisLabel:{show:last, formatter:v=>hourLabels[Math.round(v)], color:'#000', fontFamily:'DejaVu Sans', fontWeight:'bold', fontSize:10, margin:11},
    splitLine:{show:true, lineStyle:{color:'#000', type:[10,6], width:1}},
    name:last?'UT':'', nameLocation:'middle', nameGap:29,
    nameTextStyle:{color:'#000', fontFamily:'DejaVu Sans', fontWeight:'bold', fontSize:10}
  });
}
[[0,'top'],[0,'bottom'],[1,'top'],[1,'bottom']].forEach(([g,pos])=>{
  xAxis.push({gridIndex:g, type:'value', min:0, max:86400, interval:5000, position:pos,
    axisLine:{show:false}, axisTick:{show:true, inside:true, length:4, lineStyle:{color:'#000'}},
    axisLabel:{show:false}, splitLine:{show:false}});
});

function fmtTick(v){ const r = Math.round(v); return (r < 0 ? '-' : '') + Math.abs(r); }
function ax(g, pos, range, ticks, len, labels){
  return {gridIndex:g, type:'value', position:pos, min:range[0], max:range[1],
    axisLine:{show:false},
    axisTick:{show:true, inside:true, length:len, customValues:ticks, lineStyle:{color:'#000'}},
    axisLabel:labels?Object.assign({show:true, customValues:ticks, margin:7, formatter:fmtTick}, smallFont):{show:false},
    splitLine:{show:false}};
}
function ax2(g, pos, min, max, interval){
  return {gridIndex:g, type:'value', position:pos, min:min, max:max, interval:interval,
    axisLine:{show:false},
    axisTick:{show:true, inside:false, length:10, lineStyle:{color:'#000'}},
    axisLabel:{show:false}, splitLine:{show:false}};
}
const yAxis = [
  ax(0,'left',densityRange,densityTicks,18,true), ax(0,'left',densityRange,densityMinor,10,false),
  ax(0,'right',densityRange,densityTicks,18,false), ax(0,'right',densityRange,densityMinor,9,false),
  ax(1,'left',bzRange,bzTicks,18,true), ax(1,'left',bzRange,bzMinor,10,false),
  ax(1,'right',bzRange,bzTicks,18,false), ax(1,'right',bzRange,bzMinor,9,false),
  ax2(2,'left',-50,100,50), ax2(2,'right',-50,100,50),
  ax2(3,'left',-50,100,50), ax2(3,'right',-50,100,50),
  ax2(4,'left',-75,75,75), ax2(4,'right',-75,75,75),
  ax2(5,'left',-75,75,75), ax2(5,'right',-75,75,75)
];

function baseLine(v, solid){
  return {silent:true, symbol:['none','none'], label:{show:false}, animation:false,
    lineStyle:{color:'#000', width:1, type: solid?'solid':[1,3]}, data:[{yAxis:v}]};
}
function line(xi, yi, data, color, ml){
  const s = {type:'line', xAxisIndex:xi, yAxisIndex:yi, data:data, symbol:'none', showSymbol:false,
    lineStyle:{color:color, width:1.6}, itemStyle:{color:color}, animation:false, clip:true, z:3};
  if (ml !== undefined) s.markLine = baseLine(ml, false);
  return s;
}
const dotStyle = {color:'#000', opacity:1, borderWidth:0};
const series = [
  {type:'scatter', xAxisIndex:0, yAxisIndex:0, data:densityPts, symbol:'circle', symbolSize:10, itemStyle:dotStyle, animation:false},
  {type:'scatter', xAxisIndex:1, yAxisIndex:4, data:bzPts, symbol:'circle', symbolSize:10, itemStyle:dotStyle, animation:false, markLine: baseLine(0, true)},
  line(2, 8, ezBlack, '#000', 0),
  line(2, 8, ezBlue, BLUE, 50),
  line(3, 10, p4Black, '#000', 0),
  line(3, 10, p4Blue, BLUE, 50),
  line(4, 12, rTrace, '#000', 0),
  line(5, 14, xTrace, '#000', 0),
  line(5, 14, yTrace, BLUE)
];

function vtext(x, y, text, font){
  return {type:'text', x:x, y:y, rotation:Math.PI/2, z:100,
    style:{text:text, font:font, fill:'#000', align:'center', verticalAlign:'middle', textAlign:'center', textVerticalAlign:'middle'}};
}
const bigFont = '17px "Liberation Sans", Arial, sans-serif';
const midFont = '15px "Liberation Sans", Arial, sans-serif';
const graphic = [
  {type:'text', x:100, y:16, z:100, style:{text:'1992 1217 (352) 00:00:00 SPA', font:'bold 13px "DejaVu Sans"', fill:'#000', align:'left', verticalAlign:'middle', textAlign:'left', textVerticalAlign:'middle'}},
  vtext(27, 120, 'dencity,n/cc', '10px "DejaVu Sans"'),
  vtext(20, 272, 'Bz,nT', '10px "DejaVu Sans"'),
  vtext(33, 326, '142 V/m', bigFont),
  vtext(33, 458, '3.1e-011 A/m^2', bigFont),
  vtext(33, 647, '1.245 dB', bigFont),
  vtext(33, 789, '318 nT', bigFont),
  vtext(72, 409, 'EZ', midFont),
  vtext(72, 459, 'EZ', midFont),
  vtext(72, 752, 'R', midFont),
  vtext(72, 896, 'X,Y', midFont)
];

const chart = echarts.init(document.getElementById('c'), null, {renderer:'canvas'});
chart.setOption({animation:false, backgroundColor:'#fff', grid, xAxis, yAxis, series, graphic});
</script></body></html>
